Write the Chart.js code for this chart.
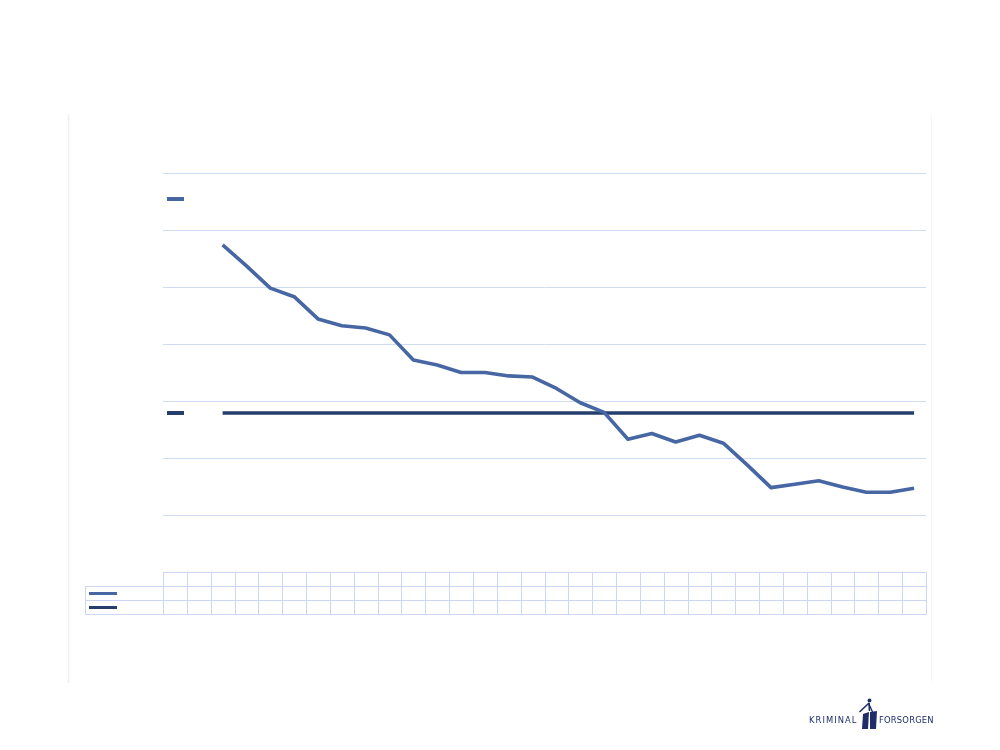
<!DOCTYPE html>
<html>
<head>
<meta charset="utf-8">
<script src="https://cdn.jsdelivr.net/npm/chart.js@4.4.1/dist/chart.umd.min.js"></script>
<style>
  html, body { margin: 0; padding: 0; background: #ffffff; }
  #wrap { position: relative; width: 1000px; height: 750px; overflow: hidden; }
  canvas { position: absolute; left: 0; top: 0; }
  .logo { position: absolute; font-family: "DejaVu Sans", sans-serif; font-size: 8.4px; color: #1f2d6b; top: 715px; white-space: nowrap; }
</style>
</head>
<body>
<div id="wrap">
  <canvas id="c" width="1000" height="750"></canvas>
  <div class="logo" style="left:809px;letter-spacing:1.05px;">KRIMINAL</div>
  <div class="logo" style="left:879px;letter-spacing:0.2px;">FORSORGEN</div>
  <svg style="position:absolute;left:855px;top:696px" width="26" height="36" viewBox="0 0 26 36">
    <circle cx="14.5" cy="4.5" r="1.9" fill="#1f2d6b"/>
    <path d="M14 7 L4.5 16" stroke="#1f2d6b" stroke-width="1.6" fill="none"/>
    <path d="M14 7 L14.5 15" stroke="#1f2d6b" stroke-width="1.6" fill="none"/>
    <path d="M14 8 L18 17" stroke="#1f2d6b" stroke-width="1.3" fill="none"/>
    <path d="M8 18 L14 16 L13 33 L7 33 Z" fill="#1f2d6b"/>
    <path d="M15 16 L22 15 L21 33 L15 33 Z" fill="#1f2d6b"/>
  </svg>
</div>
<script>
// ---- data ----
const categories = ["1","2","3","4","5","6","7","8","9","10","11","12","13","14","15","16",
                    "17","18","19","20","21","22","23","24","25","26","27","28","29","30","31","32"];
const seriesActual = [null, null, 57.4, 53.7, 49.8, 48.3, 44.4, 43.2, 42.8, 41.6, 37.2, 36.3,
                      35.0, 35.0, 34.4, 34.2, 32.2, 29.7, 28.0, 23.3, 24.3, 22.8, 24.0, 22.6,
                      18.8, 14.8, 15.4, 16.0, 14.9, 14.0, 14.0, 14.7];
const seriesTarget = [null, null, 27.9, 27.9, 27.9, 27.9, 27.9, 27.9, 27.9, 27.9, 27.9, 27.9,
                      27.9, 27.9, 27.9, 27.9, 27.9, 27.9, 27.9, 27.9, 27.9, 27.9, 27.9, 27.9,
                      27.9, 27.9, 27.9, 27.9, 27.9, 27.9, 27.9, 27.9];
const yTicks = [0, 10, 20, 30, 40, 50, 60, 70];
const actualLabelValue = 65.5;

const BLUE = '#4767a4';
const DARK = '#253e6c';
const GRID = '#cfdaf3';
const TABLE = '#cdd5f5';

const decorPlugin = {
  id: 'decor',
  beforeDraw(chart) {
    const ctx = chart.ctx;
    ctx.save();
    ctx.strokeStyle = '#efefef';
    ctx.lineWidth = 1.5;
    ctx.beginPath();
    ctx.moveTo(68.5, 114); ctx.lineTo(68.5, 683);
    ctx.stroke();
    ctx.strokeStyle = '#f6f6f6';
    ctx.lineWidth = 1;
    ctx.beginPath();
    ctx.moveTo(931.5, 114); ctx.lineTo(931.5, 683);
    ctx.stroke();
    ctx.restore();
  },
  afterDraw(chart) {
    const { ctx, chartArea: a, scales: { x, y } } = chart;
    const n = categories.length;
    const colW = (a.right - a.left) / n;
    const rowH = 14;
    const t0 = Math.round(a.bottom) + 0.5;
    const t1 = t0 + rowH, t2 = t1 + rowH, t3 = t2 + rowH;
    const leftEdge = 85.5;
    ctx.save();
    ctx.strokeStyle = TABLE;
    ctx.lineWidth = 1;
    ctx.beginPath();
    ctx.moveTo(a.left, t0); ctx.lineTo(a.right, t0);
    ctx.moveTo(leftEdge, t1); ctx.lineTo(a.right, t1);
    ctx.moveTo(leftEdge, t2); ctx.lineTo(a.right, t2);
    ctx.moveTo(leftEdge, t3); ctx.lineTo(a.right, t3);
    for (let i = 0; i <= n; i++) {
      const px = Math.round(x.getPixelForValue(Math.min(i, n - 1)) + (i === n ? colW / 2 : -colW / 2)) + 0.5;
      ctx.moveTo(px, t0); ctx.lineTo(px, t3);
    }
    ctx.moveTo(leftEdge, t1); ctx.lineTo(leftEdge, t3);
    ctx.stroke();
    // legend keys in table
    ctx.lineCap = 'butt';
    ctx.lineWidth = 3;
    ctx.strokeStyle = BLUE;
    ctx.beginPath(); ctx.moveTo(89, (t1 + t2) / 2); ctx.lineTo(117, (t1 + t2) / 2); ctx.stroke();
    ctx.strokeStyle = DARK;
    ctx.beginPath(); ctx.moveTo(89, (t2 + t3) / 2); ctx.lineTo(117, (t2 + t3) / 2); ctx.stroke();
    // series label keys inside plot
    ctx.fillStyle = BLUE;
    ctx.fillRect(a.left + 4, Math.round(y.getPixelForValue(actualLabelValue)) - 2, 17, 4);
    ctx.fillStyle = DARK;
    ctx.fillRect(a.left + 4, Math.round(y.getPixelForValue(seriesTarget[2])) - 2, 17, 4);
    ctx.restore();
  }
};

new Chart(document.getElementById('c'), {
  type: 'line',
  data: {
    labels: categories,
    datasets: [
      { label: 'Actual', data: seriesActual, borderColor: BLUE, borderWidth: 3.6, pointRadius: 0,
        tension: 0, fill: false, spanGaps: false, borderJoinStyle: 'round', order: 1 },
      { label: 'Target', data: seriesTarget, borderColor: DARK, borderWidth: 3.4, pointRadius: 0,
        tension: 0, fill: false, order: 2 }
    ]
  },
  options: {
    responsive: false,
    animation: false,
    devicePixelRatio: 1,
    layout: { padding: { left: 163, right: 74, top: 173, bottom: 178 } },
    plugins: { legend: { display: false }, tooltip: { enabled: false }, title: { display: false } },
    scales: {
      x: { display: false, offset: true, grid: { display: false } },
      y: {
        display: true,
        min: yTicks[0], max: yTicks[yTicks.length - 1],
        afterBuildTicks(scale) { scale.ticks = yTicks.map(v => ({ value: v })); },
        ticks: { display: false },
        border: { display: false },
        grid: { color: GRID, lineWidth: 1, drawTicks: false }
      }
    }
  },
  plugins: [decorPlugin]
});
</script>
</body>
</html>
